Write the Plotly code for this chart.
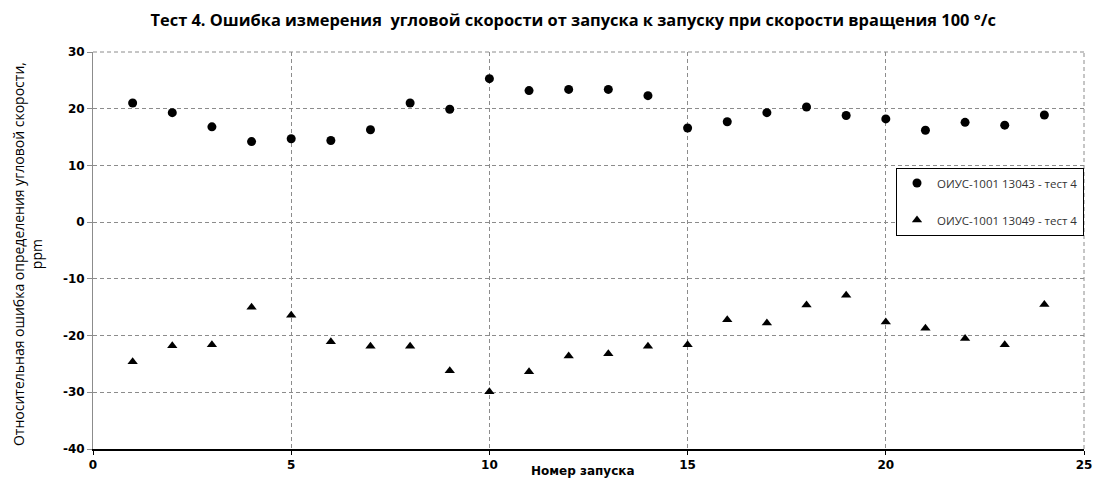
import plotly.graph_objects as go

# Launch numbers and measured relative angular-rate error, ppm
runs = list(range(1, 25))
err_13043 = [21.0, 19.3, 16.8, 14.2, 14.7, 14.4, 16.3, 21.0, 19.9, 25.3, 23.2, 23.4,
             23.4, 22.3, 16.6, 17.7, 19.3, 20.3, 18.8, 18.2, 16.2, 17.6, 17.1, 18.9]
err_13049 = [-24.6, -21.8, -21.6, -15.0, -16.4, -21.1, -21.9, -21.9, -26.2, -29.9, -26.4, -23.6,
             -23.2, -21.9, -21.6, -17.2, -17.8, -14.6, -12.9, -17.6, -18.7, -20.5, -21.6, -14.5]

name_13043 = "ОИУС-1001 13043 - тест 4"
name_13049 = "ОИУС-1001 13049 - тест 4"

x_ticks = [0, 5, 10, 15, 20, 25]
y_ticks = [30, 20, 10, 0, -10, -20, -30, -40]

GRID = "#8c8c8c"
DASH = "4px,3px"

fig = go.Figure()
fig.add_trace(go.Scatter(
    x=runs, y=err_13043, mode="markers", name=name_13043, legendgroup="a",
    marker=dict(symbol="circle", size=9, color="black"),
))
fig.add_trace(go.Scatter(
    x=runs, y=err_13049, mode="markers", name=name_13049, legendgroup="b",
    marker=dict(symbol="triangle-up", size=9, color="black"),
))

tick_font = dict(family="DejaVu Sans", size=12, color="black")

fig.update_layout(
    width=1094, height=480,
    margin=dict(l=93, r=10, t=52, b=31),
    paper_bgcolor="white", plot_bgcolor="white",
    title=dict(
        text="<b>Тест 4. Ошибка измерения  угловой скорости от запуска к запуску при скорости вращения 100 °/с</b>",
        x=0.524, xanchor="center", y=0.958, yanchor="middle",
        font=dict(family="Open Sans", size=16.4, color="black"),
    ),
    showlegend=True,
    legend=dict(
        x=1.0, xanchor="right", y=0.709, yanchor="top",
        bgcolor="white", bordercolor="black", borderwidth=1,
        font=dict(family="Open Sans", size=11.5, color="#333"),
        itemwidth=30, tracegroupgap=18,
    ),
    xaxis=dict(
        range=[0, 25], tickvals=x_ticks, ticktext=[f"<b>{v}</b>" for v in x_ticks],
        showgrid=True, gridcolor=GRID, griddash=DASH, gridwidth=1,
        zeroline=False, showline=True, linecolor="black", linewidth=2,
        ticks="outside", ticklen=4, tickcolor="black",
        tickfont=tick_font, automargin=False,
    ),
    yaxis=dict(
        range=[-40, 30], tickvals=y_ticks, ticktext=[f"<b>{v}</b>" for v in y_ticks],
        showgrid=True, gridcolor=GRID, griddash=DASH, gridwidth=1,
        zeroline=False, showline=True, linecolor="#8c8c8c", linewidth=1,
        ticks="outside", ticklen=5, tickcolor="#8c8c8c",
        tickfont=tick_font, automargin=False,
    ),
)

# Dashed border lines along the top and right edges of the plot area
fig.add_shape(type="line", xref="paper", yref="paper", x0=0, x1=1, y0=1, y1=1,
              line=dict(color=GRID, width=1, dash=DASH))
fig.add_shape(type="line", xref="paper", yref="paper", x0=1, x1=1, y0=0, y1=1,
              line=dict(color=GRID, width=1, dash=DASH))

# Axis titles
fig.add_annotation(
    text="<b>Номер запуска</b>", xref="paper", yref="paper",
    x=0.494, y=-0.055, xanchor="center", yanchor="middle", showarrow=False,
    font=dict(family="DejaVu Sans", size=12, color="black"),
)
fig.add_annotation(
    text="Относительная ошибка определения угловой скорости,<br>ppm",
    xref="paper", yref="paper", x=-0.066, y=0.49, xanchor="center", yanchor="middle",
    textangle=-90, showarrow=False,
    font=dict(family="Open Sans", size=14, color="black"),
)

fig.write_html("out.html")
